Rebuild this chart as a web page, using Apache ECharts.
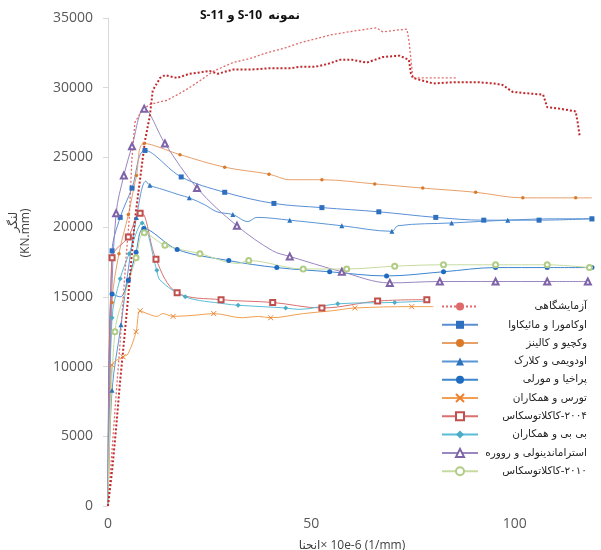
<!DOCTYPE html>
<html>
<head>
<meta charset="utf-8">
<script src="https://cdn.jsdelivr.net/npm/echarts@6/dist/echarts.min.js"></script>
<style>
  html, body { margin: 0; padding: 0; background: #fff; }
  #chart { width: 601px; height: 550px; }
</style>
</head>
<body>
<div id="chart"></div>
<script>
// curvature (x 10e-6 1/mm) vs moment (KN.mm); a third 0 = point drawn without marker
const expS10 = [[0,0],[1,2500],[2,5600],[2.9,8700],[3.9,11700],[4.9,14800],[6.6,20500],[9.1,26200],[10.3,28000],[11,29800],[12.8,30700],[14,30900],[17,30700],[20,31000],[22.6,31100],[25,31200],[27,31000],[30.7,31300],[35,31300],[40,31400],[45,31400],[47,31500],[51,31500],[54,31700],[57,32000],[60,32000],[63.6,31800],[67.6,32200],[71.7,32300],[74,32000],[74.5,31000],[75,30700],[80,30300],[85,30400],[90.7,30400],[95,30300],[97,30200],[99.5,29700],[103,29600],[107,29500],[108,28600],[111,28500],[115,28300],[115.5,27500],[116,26500]];
const expS11 = [[0,0],[1,4000],[2,8000],[3,11800],[3.7,14800],[4.5,18000],[5.2,20500],[5.9,25000],[6.6,27500],[8.4,28400],[10.3,28800],[14.5,29100],[17.7,29600],[20,30000],[22.6,30500],[26,31200],[30.7,31800],[35,32100],[39,32500],[43,32800],[47,33200],[51,33500],[55,33800],[59,34000],[63.6,34200],[66,34300],[67.6,34000],[70,34100],[73.5,34200],[74,33400],[74.5,32000],[75,30700],[80,30700],[85.7,30700]];
const okamura = [[0,0,0],[1,18300],[3,20700],[5.9,22800],[9.1,25500],[18,23600],[28.7,22500],[40.8,21700],[52.6,21400],[66.6,21100],[80.6,20700],[92.4,20500],[106,20500],[119,20600]];
const vecchio = [[0,0,0],[1,14600],[2.7,18100],[5,20900],[7,23700],[8.9,26000],[17.7,25200],[28.7,24300],[39.6,23800],[44.7,23400,0],[52.6,23400],[65.6,23100],[77.4,22800],[90.4,22500],[102,22100],[115,22100],[119,22100,0]];
const odoyemi = [[0,0,0],[1,8300],[3.2,13000],[5,17000,0],[7,20700],[9.3,23300,0],[10.3,23000],[13.5,22700,0],[17.7,22300,0],[20,22100],[23.8,21600,0],[26.8,21100,0],[30.7,20900],[34.4,20400,0],[36.6,20700,0],[44.7,20500],[57.5,20100],[69.8,19700],[71.3,20100,0],[84.5,20300],[98.3,20500],[110,20600,0],[119,20600]];
const parakhia = [[0,0,0],[1,15200],[3,15000,0],[5,16200],[6.9,18200],[8.8,19900],[17,18400],[29.7,17600],[41.5,17100],[54.5,16800],[68.5,16500],[82.5,16800],[95.3,17100],[108,17100],[119,17100]];
const torres = [[0,0,0],[0.5,6000,0],[1,10100],[3.7,10700],[4.9,10900,0],[6.9,12500],[7.9,14000],[9.6,13800,0],[12,13600,0],[13.5,13800,0],[16,13600],[22,13700,0],[26,13800],[33,13500,0],[37,13600,0],[40,13500],[48,13800,0],[55,14000,0],[60.7,14200],[74.7,14300],[80,14300,0]];
const kak2004 = [[0,0,0],[1,17800],[5,19300],[7.9,21000],[9,20800,0],[11.8,17700],[17,15300],[27.8,14800],[40.5,14600],[52.6,14200],[66.3,14700],[78.4,14800]];
const bb = [[0,0,0],[1,13500],[3,16300],[5.2,18100],[8.4,20300],[12,16900],[12.8,16200,0],[19,15000],[28.7,14500,0],[32,14400],[43.7,14200],[47,14100,0],[56.5,14500],[70.5,14600],[78,14700,0]];
const stramandinoli = [[0,0,0],[0.8,14000,0],[2,21000],[3.9,23700],[5.9,25800],[8.9,28500],[14,26000],[21.9,22800],[31.7,20100],[40.5,18300,0],[44.7,17900],[57.5,16800],[69.3,16000],[81.6,16100],[95.3,16100],[108,16100],[118,16100]];
const kak2010 = [[0,0,0],[1.7,12500],[5,16000,0],[6.9,17800],[8.9,19600],[14,18700],[22.6,18100],[32,17400,0],[34.6,17600],[48,17000],[58.7,17000],[70.5,17200],[82.5,17300],[95.3,17300],[108,17300],[118.4,17100]];

// LRM marks keep the mixed Persian/Latin strings in left-to-right visual order
const names = [
  "آزمایشگاهی",
  "اوکامورا و مائیکاوا",
  "وکچیو و کالینز",
  "اودویمی و کلارک",
  "پراخیا و مورلی",
  "تورس و همکاران",
  "\u200Eکاکلاتوسکاس\u200E-۲۰۰۴",
  "بی بی و همکاران",
  "استراماندینولی و رووره",
  "\u200Eکاکلاتوسکاس\u200E-۲۰۱۰"
];

const title = "\u200ES-11 و S-10  نمونه";
const xName = "\u200Eانحنا\u200E× 10e-6 (1/mm)";
const yName = ["لنگر", "(KN.mm)"];

function pts(arr) {
  return arr.map((p) => (p.length > 2 ? { value: [p[0], p[1]], symbol: "none" } : [p[0], p[1]]));
}

function line(name, data, lineColor, markColor, symbol, size, extra) {
  return Object.assign({
    name: name,
    type: "line",
    smooth: 0.35,
    data: pts(data),
    symbol: symbol,
    symbolSize: size,
    lineStyle: { width: 1, color: lineColor },
    itemStyle: { color: markColor, borderWidth: 1 },
    emphasis: { disabled: true },
  }, extra || {});
}

const cross = "path://M0,0L10,10M10,0L0,10";
const chart = echarts.init(document.getElementById("chart"));

chart.setOption({
  animation: false,
  grid: { left: 108, right: 5, top: 18, bottom: 44, outerBoundsMode: "none" },
  xAxis: {
    type: "value",
    min: 0, max: 120, interval: 50,
    name: xName,
    nameLocation: "middle",
    nameGap: 34,
    nameTextStyle: { fontSize: 12, color: "#404040", fontFamily: "Open Sans, DejaVu Sans" },
    axisLine: { show: false },
    axisTick: { show: false },
    splitLine: { show: false },
    axisLabel: { showMaxLabel: false, margin: 11, fontSize: 14, color: "#595959", fontFamily: "Open Sans" },
  },
  yAxis: {
    type: "value",
    min: 0, max: 35000, interval: 5000,
    axisLine: { show: true, lineStyle: { color: "#d9d9d9" } },
    axisTick: { show: true, length: 5, lineStyle: { color: "#d9d9d9" } },
    splitLine: { show: false },
    axisLabel: { margin: 15, fontSize: 14, color: "#595959", fontFamily: "Open Sans", formatter: (v) => String(v) },
  },
  graphic: [
    { type: "text", x: 250, y: 16, style: { text: title, fontSize: 12, fontWeight: "bold", fill: "#111", align: "center", verticalAlign: "middle", fontFamily: "Open Sans, DejaVu Sans" } },
    { type: "text", x: 14, y: 222, rotation: Math.PI / 2, style: { text: yName[0], fontSize: 12, fill: "#404040", align: "center", verticalAlign: "middle", fontFamily: "DejaVu Sans" } },
    { type: "text", x: 26, y: 233, rotation: Math.PI / 2, style: { text: yName[1], fontSize: 12, fill: "#404040", align: "center", verticalAlign: "middle", fontFamily: "Open Sans" } },
  ],
  legend: {
    orient: "vertical",
    left: 437, top: 295,
    itemWidth: 36, itemHeight: 10, itemGap: 7.3,
    padding: [6, 14, 6, 4],
    backgroundColor: "#fff",
    data: names,
    formatter: (n) => "{t|" + n + "}",
    textStyle: { rich: { t: { width: 104, align: "right", fontSize: 10.5, lineHeight: 14, color: "#262626", fontFamily: "DejaVu Sans" } } },
  },
  series: [
    line(names[1], okamura, "#5a8fd4", "#2f6fbf", "rect", 5),
    line(names[2], vecchio, "#e8a06a", "#d97a2b", "circle", 3.5),
    line(names[3], odoyemi, "#5b95d5", "#2d72bd", "triangle", 5),
    line(names[4], parakhia, "#3d86cf", "#1f6bbf", "circle", 5),
    line(names[5], torres, "#f0a050", "#ee8030", cross, 5, { itemStyle: { color: "#ee8030", borderColor: "#ee8030", borderWidth: 1 } }),
    line(names[6], kak2004, "#d9706e", "#c0504d", "emptyRect", 5),
    line(names[7], bb, "#5bbcd8", "#4bacc6", "diamond", 5),
    line(names[8], stramandinoli, "#9a86c0", "#7f63a8", "emptyTriangle", 6),
    line(names[9], kak2010, "#c6dba0", "#b0cc85", "emptyCircle", 5),
    line(names[0], expS11, "#e06a6a", "#e06a6a", "none", 0, { smooth: false, lineStyle: { width: 1.3, color: "#e06a6a", type: [2, 2] } }),
    line(names[0], expS10, "#c0282d", "#c0282d", "none", 0, { smooth: false, lineStyle: { width: 2, color: "#c0282d", type: [2, 2] } }),
  ],
});
</script>
</body>
</html>
